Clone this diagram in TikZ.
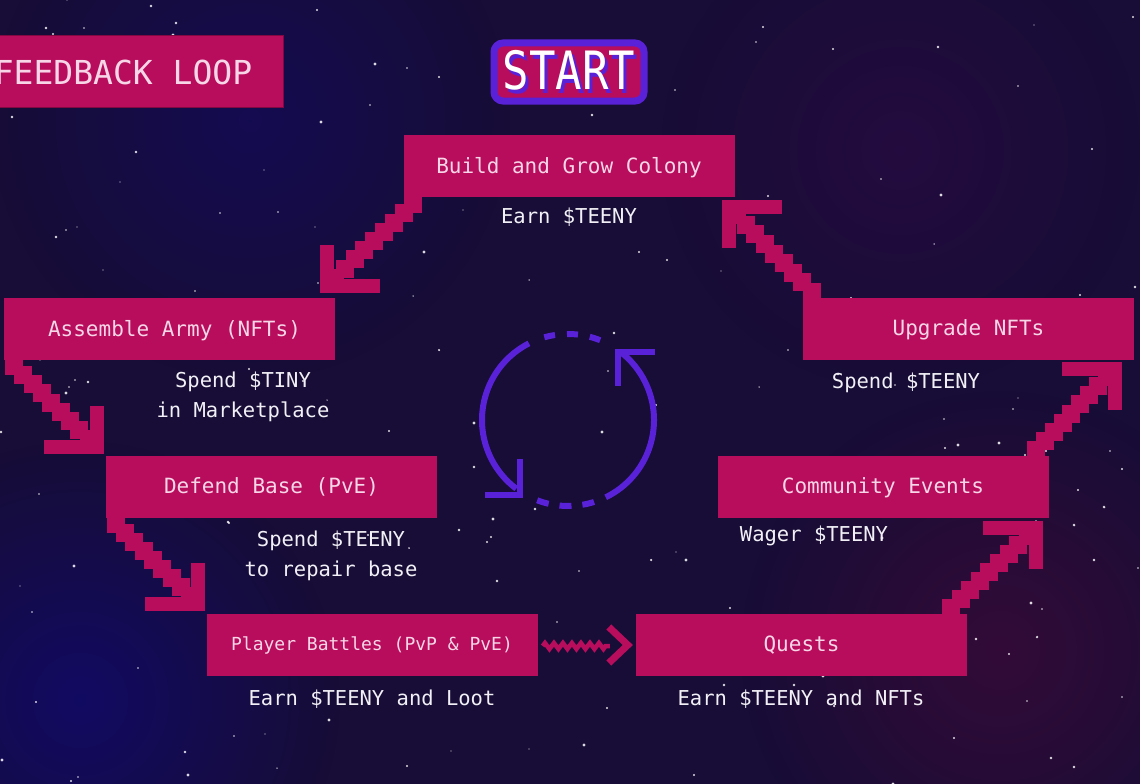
\documentclass[tikz,border=0pt]{standalone}
\usepackage{fontspec}
\setmonofont{DejaVu Sans Mono}
\usetikzlibrary{calc,decorations.pathmorphing,fadings}
\definecolor{bg}{HTML}{170D36}
\definecolor{mag}{HTML}{B80C5C}
\definecolor{vio}{HTML}{5A22D8}
\definecolor{lbl}{HTML}{F7D6E8}
\definecolor{sub}{HTML}{F2F0F6}
\tikzfading[name=softglow, inner color=transparent!0, outer color=transparent!100]
\tikzset{
  boxnode/.style={fill=mag, minimum width=331pt, minimum height=62pt, inner sep=0pt,
    text=lbl, font=\ttfamily\fontsize{21}{24}\selectfont, text depth=2pt},
  subnode/.style={text=sub, font=\ttfamily\fontsize{20.5}{30}\selectfont, align=center, inner sep=0pt},
  cyc/.style={draw=vio, line width=6pt},
}
\newcommand\pixarrow[5]{%
  \coordinate (#5i) at ($(#2)+({-15*#3},{-15*#4})$);
  \foreach \k [evaluate=\k as \tq using \k/8] in {0,...,8}{%
    \fill[mag] ($(#1)!\tq!(#5i)$) ++(-9,-9) rectangle ++(18,18);}
  \fill[mag] (#2) rectangle ($(#2)+({-60*#3},{-14*#4})$);
  \fill[mag] (#2) rectangle ($(#2)+({-14*#3},{-48*#4})$);
}
\begin{document}
\begin{tikzpicture}[x=1pt,y=-1pt]
\useasboundingbox (0,0) rectangle (1140,784);
% background
\fill[bg] (0,0) rectangle (1140,784);
\fill[blue!55!bg, path fading=softglow, opacity=0.4] (80,700) circle (260pt);
\fill[blue!45!bg, path fading=softglow, opacity=0.3] (250,120) circle (260pt);
\fill[purple!55!bg, path fading=softglow, opacity=0.3] (1000,650) circle (260pt);
\fill[violet!50!bg, path fading=softglow, opacity=0.25] (900,150) circle (240pt);
% stars
\pgfmathsetseed{11}
\foreach \i in {1,...,170}{%
  \pgfmathsetmacro\sx{random(0,1140)}%
  \pgfmathsetmacro\sy{random(0,784)}%
  \pgfmathsetmacro\sr{0.6+rnd*1.1}%
  \fill[white, opacity=0.85] (\sx,\sy) circle (\sr pt);}
% title
\fill[mag] (-2,36) rectangle (283,107);
\draw[mag!70!black, line width=1pt] (-2,36) rectangle (283,107);
\node[text=lbl, font=\ttfamily\fontsize{33}{36}\selectfont, inner sep=0pt] (title) at (123,72) {FEEDBACK LOOP};
% start badge
\node[draw=vio, line width=7pt, fill=mag, rounded corners=9pt, minimum width=150pt, minimum height=58pt] (start) at (569,72) {};
\node[text=white, font=\ttfamily\fontsize{44}{48}\selectfont, inner sep=0pt] (starttxt) at (569,72)
  {\scalebox{1}[1.2]{\rlap{\hspace{3pt}\raisebox{-3pt}{\textcolor{vio}{START}}}START}};
% boxes
\node[boxnode] (build) at (569,166) {Build and Grow Colony};
\node[boxnode] (assemble) at (169.5,329) {\hspace*{10pt}Assemble Army (NFTs)};
\node[boxnode] (defend) at (271.5,487) {Defend Base (PvE)};
\node[boxnode, font=\ttfamily\fontsize{18}{22}\selectfont] (player) at (372,645) {Player Battles (PvP \& PvE)};
\node[boxnode] (quests) at (801.5,645) {Quests};
\node[boxnode] (community) at (883,487) {Community Events};
\node[boxnode] (upgrade) at (968.5,329) {Upgrade NFTs};
% sub texts
\node[subnode] (s1) at (569,217) {Earn \$TEENY};
\node[subnode] (s2) at (243,397) {Spend \$TINY\\in Marketplace};
\node[subnode] (s3) at (331,556) {Spend \$TEENY\\to repair base};
\node[subnode] (s4) at (372,699) {Earn \$TEENY and Loot};
\node[subnode] (s5) at (801,699) {Earn \$TEENY and NFTs};
\node[subnode] (s6) at (814,536) {Wager \$TEENY};
\node[subnode] (s7) at (906,383) {Spend \$TEENY};
% pixel arrows
\coordinate (a1s) at ($(build.south west)+(10,7)$);
\coordinate (a1c) at ($(assemble.north east)+(-15,-5)$);
\pixarrow{a1s}{a1c}{-1}{1}{a1}
\coordinate (a2s) at ($(assemble.south west)+(10,6)$);
\coordinate (a2c) at ($(defend.north west)+(-2,-2)$);
\pixarrow{a2s}{a2c}{1}{1}{a2}
\coordinate (a3s) at ($(defend.south west)+(10,6)$);
\coordinate (a3c) at ($(player.north west)+(-1,-3)$);
\pixarrow{a3s}{a3c}{1}{1}{a3}
\coordinate (a5s) at ($(quests.north east)+(-16,-6)$);
\coordinate (a5c) at ($(community.south east)+(-6,3)$);
\pixarrow{a5s}{a5c}{1}{-1}{a5}
\coordinate (a6s) at ($(community.north east)+(-13,-6)$);
\coordinate (a6c) at ($(upgrade.south east)+(-12,2)$);
\pixarrow{a6s}{a6c}{1}{-1}{a6}
\coordinate (a7s) at ($(upgrade.north west)+(9,-6)$);
\coordinate (a7c) at ($(build.south east)+(-13,3)$);
\pixarrow{a7s}{a7c}{-1}{-1}{a7}
% wavy arrow
\coordinate (w1) at ($(player.east)+(5,1)$);
\coordinate (w2) at ($(quests.west)+(-26,1)$);
\coordinate (wt) at ($(quests.west)+(-5,0)$);
\draw[mag, line width=4.5pt, decorate, decoration={zigzag, segment length=9pt, amplitude=3pt}] (w1) -- (w2);
\draw[mag, line width=7pt, line join=miter] ($(wt)+(-22,-18)$) -- ($(wt)+(-3,0)$) -- ($(wt)+(-22,18)$);
% cycle symbol
\coordinate (cc) at (568,420);
\draw[cyc] ($(cc)+({86*cos(-117)},{86*sin(-117)})$) arc[start angle=-117, end angle=-233, radius=86];
\draw[cyc] ($(cc)+({86*cos(64)},{86*sin(64)})$) arc[start angle=64, end angle=-52, radius=86];
\draw[cyc, dash pattern=on 11pt off 12pt] ($(cc)+({86*cos(-106)},{86*sin(-106)})$) arc[start angle=-106, end angle=-68, radius=86];
\draw[cyc, dash pattern=on 12pt off 11pt] ($(cc)+({86*cos(111)},{86*sin(111)})$) arc[start angle=111, end angle=70, radius=86];
\coordinate (h1) at (520,495);
\draw[cyc, line cap=rect] (520,462) -- (h1) -- (488,495);
\coordinate (h2) at (618,352);
\draw[cyc, line cap=rect] (652,352) -- (h2) -- (618,383);
\end{tikzpicture}
\end{document}
